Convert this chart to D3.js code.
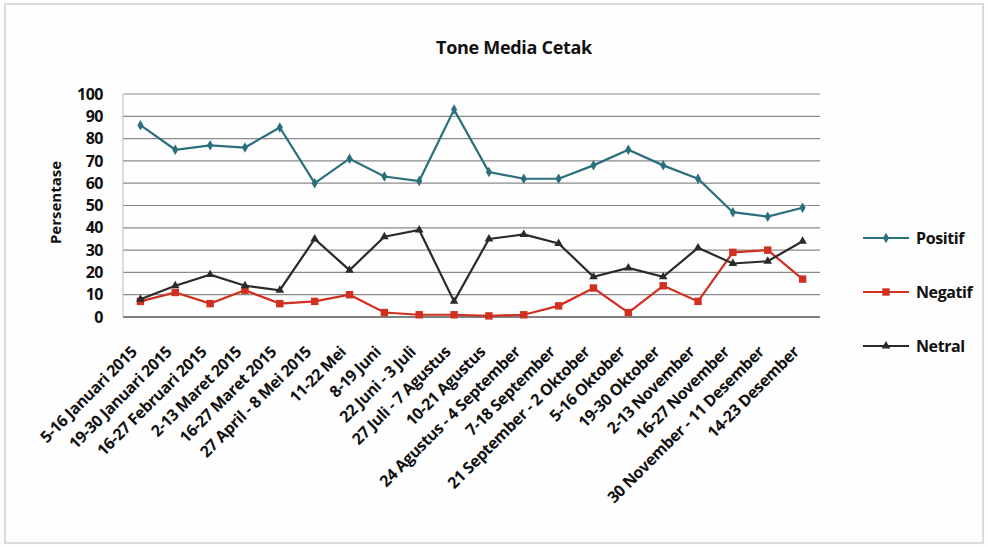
<!DOCTYPE html>
<html>
<head>
<meta charset="utf-8">
<script src="https://cdn.jsdelivr.net/npm/d3@7"></script>
<style>
  body { margin: 0; background: #fdfdfc; }
  text { font-family: "Open Sans", sans-serif; font-weight: bold; fill: #111; }
</style>
</head>
<body>
<div id="chart"></div>
<script>
// Data
var categories = ["5-16 Januari 2015", "19-30 Januari 2015", "16-27 Februari 2015", "2-13 Maret 2015",
  "16-27 Maret 2015", "27 April - 8 Mei 2015", "11-22 Mei", "8-19 Juni", "22 Juni - 3 Juli",
  "27 Juli - 7 Agustus", "10-21 Agustus", "24 Agustus - 4 September", "7-18 September",
  "21 September - 2 Oktober", "5-16 Oktober", "19-30 Oktober", "2-13 November", "16-27 November",
  "30 November - 11 Desember", "14-23 Desember"];
var positif = [86, 75, 77, 76, 85, 60, 71, 63, 61, 93, 65, 62, 62, 68, 75, 68, 62, 47, 45, 49];
var negatif = [7, 11, 6, 12, 6, 7, 10, 2, 1, 1, 0.5, 1, 5, 13, 2, 14, 7, 29, 30, 17];
var netral  = [8, 14, 19, 14, 12, 35, 21, 36, 39, 7, 35, 37, 33, 18, 22, 18, 31, 24, 25, 34];
var yTicks = d3.range(0, 101, 10);

var series = [
  { name: "Positif", values: positif, color: "#2b6f7d", symbol: d3.symbolDiamond, size: 32 },
  { name: "Negatif", values: negatif, color: "#d0301f", symbol: d3.symbolSquare, size: 55 },
  { name: "Netral",  values: netral,  color: "#2a2a2a", symbol: d3.symbolTriangle, size: 32 }
];

var W = 988, H = 547;
var margin = { top: 94, left: 123, right: 168, bottom: 230 };
var width = W - margin.left - margin.right,
    height = H - margin.top - margin.bottom;

var svg = d3.select('#chart').append('svg')
  .attr('width', W).attr('height', H);

// paper frame
svg.append('rect').attr('x', 5).attr('y', 4).attr('width', W - 10).attr('height', H - 8)
  .attr('fill', '#fefefe').attr('stroke', '#cfcfcf').attr('stroke-width', 1.5);

svg.append('text')
  .attr('x', 514).attr('y', 54)
  .attr('text-anchor', 'middle')
  .style('font-size', '18px')
  .style('letter-spacing', '-0.3px')
  .text('Tone Media Cetak');

var g = svg.append('g')
  .attr('transform', 'translate(' + margin.left + ',' + margin.top + ')');

var x = d3.scalePoint().domain(categories).range([0, width]).padding(0.5);
var y = d3.scaleLinear().domain([0, 100]).range([height, 0]);

// gridlines
g.selectAll('.grid').data(yTicks).enter().append('line')
  .attr('x1', 0).attr('x2', width)
  .attr('y1', function (d) { return y(d); }).attr('y2', function (d) { return y(d); })
  .attr('stroke', function (d) { return d === 0 ? '#555' : '#8a8a8a'; })
  .attr('stroke-width', function (d) { return d === 0 ? 1.5 : 1.2; });

g.append('line').attr('x1', 0).attr('x2', 0).attr('y1', 0).attr('y2', height)
  .attr('stroke', '#bbb');

// y axis
var yAxis = g.append('g')
  .call(d3.axisLeft(y).tickValues(yTicks).tickSize(0).tickPadding(20));
yAxis.select('.domain').remove();
yAxis.selectAll('text').style('font-size', '16px').style('font-family', '"Open Sans", sans-serif')
  .style('font-weight', 'bold').style('letter-spacing', '-0.5px').attr('fill', '#111');

svg.append('text')
  .attr('transform', 'translate(61,' + (margin.top + height / 2 - 3) + ') rotate(-90)')
  .attr('text-anchor', 'middle')
  .style('font-size', '15px')
  .text('Persentase');

// x axis labels
var xAxis = g.append('g')
  .attr('transform', 'translate(0,' + height + ')')
  .call(d3.axisBottom(x).tickSize(0).tickPadding(0));
xAxis.select('.domain').remove();
xAxis.selectAll('text')
  .attr('text-anchor', 'end')
  .attr('dy', 0)
  .attr('transform', 'translate(-3,36) rotate(-45)')
  .style('font-size', '16px')
  .style('font-family', '"Open Sans", sans-serif')
  .style('font-weight', 'bold')
  .style('letter-spacing', '-0.4px')
  .attr('fill', '#111');

// lines and markers
var line = d3.line()
  .x(function (d, i) { return x(categories[i]); })
  .y(function (d) { return y(d); });

series.forEach(function (s) {
  g.append('path')
    .datum(s.values)
    .attr('d', line)
    .attr('fill', 'none')
    .attr('stroke', s.color)
    .attr('stroke-width', 2.2);
  g.selectAll('.pt-' + s.name).data(s.values).enter().append('path')
    .attr('d', d3.symbol().type(s.symbol).size(s.size))
    .attr('transform', function (d, i) { return 'translate(' + x(categories[i]) + ',' + y(d) + ')'; })
    .attr('fill', s.color);
});

// legend
var legend = svg.append('g').attr('transform', 'translate(863,238)');
series.forEach(function (s, i) {
  var lg = legend.append('g').attr('transform', 'translate(0,' + (i * 54) + ')');
  lg.append('line').attr('x1', 0).attr('x2', 46).attr('y1', 0).attr('y2', 0)
    .attr('stroke', s.color).attr('stroke-width', 2.2);
  lg.append('path').attr('d', d3.symbol().type(s.symbol).size(s.size))
    .attr('transform', 'translate(23,0)').attr('fill', s.color);
  lg.append('text').attr('x', 53).attr('y', 6).style('font-size', '16px')
    .style('letter-spacing', '-0.4px').text(s.name);
});
</script>
</body>
</html>
